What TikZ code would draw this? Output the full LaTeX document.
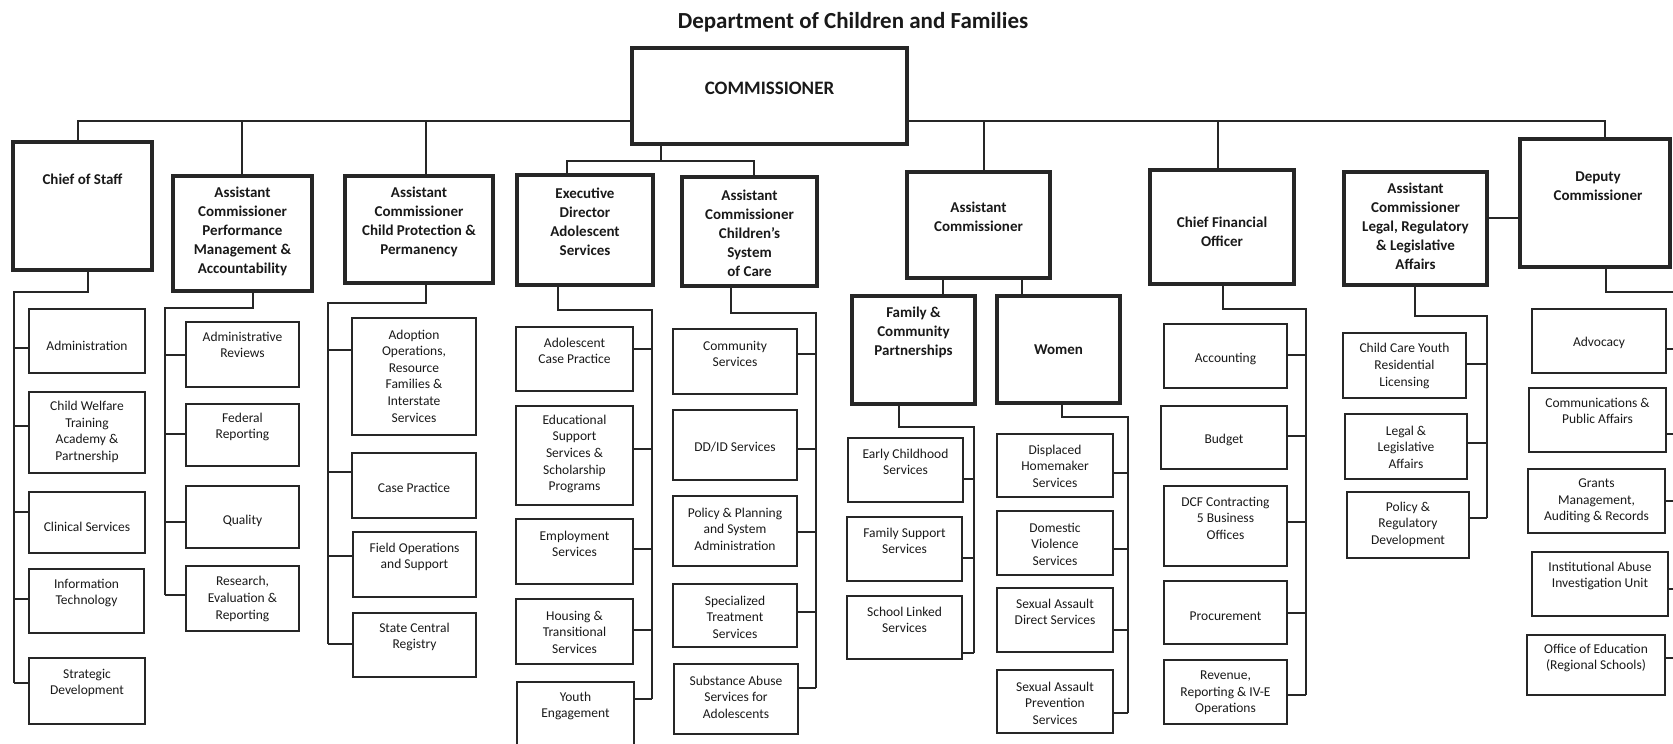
\documentclass[tikz,border=0pt]{standalone}
\usepackage{fontspec}
\setmainfont{Carlito}
\tikzset{
  hb/.style={draw=black!85, line width=3.2pt, inner sep=0pt, outer sep=0pt, rectangle},
  sb/.style={draw=black!85, line width=2pt, inner sep=0pt, outer sep=0pt, rectangle},
  cb/.style={hb},
  hbtxt/.style={align=center, font=\bfseries\fontsize{15}{19}\selectfont, text=black!90, inner sep=0pt},
  sbtxt/.style={align=center, font=\fontsize{13.5}{16.6}\selectfont, text=black!90, inner sep=0pt},
  cbtxt/.style={align=center, font=\bfseries\fontsize{19}{23}\selectfont, text=black!90, inner sep=0pt},
  conn/.style={draw=black!85, line width=2pt},
  ttl/.style={font=\bfseries\fontsize{23}{28}\selectfont, text=black!90, inner sep=0pt}
}
% #1 style, #2 name, #3 x1, #4 y1, #5 x2, #6 y2, #7 text dx, #8 text y, #9 text
\newcommand{\obox}[9]{%
  \node[#1, minimum width={(#5-#3)*1pt}, minimum height={(#6-#4)*1pt}] (#2) at ({(#3+#5)/2},{(#4+#6)/2}) {};
  \node[#1txt] (#2t) at ({(#3+#5)/2+#7},#8) {#9};
}
\newcommand{\brr}[3]{\draw[conn] (#1.east |- 0,#3) -- (#2 |- 0,#3);}
\newcommand{\brl}[3]{\draw[conn] (#1.west |- 0,#3) -- (#2 |- 0,#3);}
\begin{document}
\begin{tikzpicture}[x=1pt,y=-1pt]
\useasboundingbox (0,0) rectangle (1673,744);
\clip (0,0) rectangle (1673,744);

\node[ttl] (title) at (853,22) {Department of Children and Families};

% ---- heads
\obox{cb}{comm}{632}{48}{907}{144}{0}{88}{COMMISSIONER}
\obox{hb}{cos}{13}{142}{152}{270}{0}{179}{Chief of Staff}
\obox{hb}{acpm}{173}{176}{312}{291}{0}{231}{Assistant\\Commissioner\\Performance\\Management \&\\Accountability}
\obox{hb}{accp}{345}{176}{493}{283}{0}{222}{Assistant\\Commissioner\\Child Protection \&\\Permanency}
\obox{hb}{edas}{517}{175}{653}{285}{0}{222}{Executive\\Director\\Adolescent\\Services}
\obox{hb}{accsc}{682}{177}{817}{286}{0}{233}{Assistant\\Commissioner\\Children’s\\System\\of Care}
\obox{hb}{ac}{907}{172}{1050}{278}{0}{217}{Assistant\\Commissioner}
\obox{hb}{fcp}{852}{296}{975}{404}{0}{332}{Family \&\\Community\\Partnerships}
\obox{hb}{women}{997}{296}{1120}{403}{0}{350}{Women}
\obox{hb}{cfo}{1150}{170}{1294}{284}{0}{232}{Chief Financial\\Officer}
\obox{hb}{aclrl}{1344}{172}{1487}{285}{0}{226}{Assistant\\Commissioner\\Legal, Regulatory\\\& Legislative\\Affairs}
\obox{hb}{dep}{1520}{139}{1670}{267}{3}{186}{Deputy\\Commissioner}

% ---- top connectors
\draw[conn] (cos.north -| 78,0) -- (78,121) -- (comm.west |- 0,121);
\draw[conn] (acpm.north -| 242,0) -- (242,121);
\draw[conn] (accp.north -| 426,0) -- (426,121);
\draw[conn] (comm.east |- 0,121) -- (1605,121) -- (dep.north -| 1605,0);
\draw[conn] (ac.north -| 984,0) -- (984,121);
\draw[conn] (cfo.north -| 1218,0) -- (1218,121);
\draw[conn] (aclrl.east |- 0,218) -- (dep.west |- 0,218);
\draw[conn] (comm.south -| 661,0) -- (661,161);
\draw[conn] (edas.north -| 567,0) -- (567,161) -- (754,161) -- (accsc.north -| 754,0);
\draw[conn] (ac.south -| 943,0) -- (fcp.north -| 943,0);
\draw[conn] (ac.south -| 1022,0) -- (women.north -| 1022,0);

% ---- Chief of Staff
\obox{sb}{adm}{29}{309}{145}{373}{0}{346}{Administration}
\obox{sb}{cwt}{29}{392}{145}{473}{0}{432}{Child Welfare\\Training\\Academy \&\\Partnership}
\obox{sb}{cls}{29}{492}{145}{553}{0}{527}{Clinical Services}
\obox{sb}{itc}{29}{569}{144}{633}{0}{593}{Information\\Technology}
\obox{sb}{sdv}{29}{658}{145}{724}{0}{683}{Strategic\\Development}
\coordinate (cossp) at (14,292);
\draw[conn] (cos.south -| 88,0) -- (88,292) -- (cossp) -- (14,683);
\brl{adm}{cossp}{348} \brl{cwt}{cossp}{426} \brl{cls}{cossp}{512} \brl{itc}{cossp}{599} \brl{sdv}{cossp}{683}

% ---- Performance Management
\obox{sb}{arv}{186}{322}{299}{387}{0}{345}{Administrative\\Reviews}
\obox{sb}{frp}{186}{404}{299}{466}{0}{427}{Federal\\Reporting}
\obox{sb}{qua}{186}{486}{299}{548}{0}{521}{Quality}
\obox{sb}{rer}{186}{566}{299}{631}{0}{599}{Research,\\Evaluation \&\\Reporting}
\coordinate (pmsp) at (165,308);
\draw[conn] (acpm.south -| 253,0) -- (253,308) -- (pmsp) -- (165,595);
\brl{arv}{pmsp}{355} \brl{frp}{pmsp}{434} \brl{qua}{pmsp}{522} \brl{rer}{pmsp}{595}

% ---- Child Protection
\obox{sb}{aop}{352}{318}{476}{435}{0}{376}{Adoption\\Operations,\\Resource\\Families \&\\Interstate\\Services}
\obox{sb}{csp}{352}{453}{476}{518}{0}{488}{Case Practice}
\obox{sb}{fos}{353}{532}{476}{597}{0}{557}{Field Operations\\and Support}
\obox{sb}{scr}{353}{613}{476}{677}{0}{637}{State Central\\Registry}
\coordinate (cpsp) at (327.5,303);
\draw[conn] (accp.south -| 426,0) -- (426,303) -- (cpsp) -- (327.5,644);
\brl{aop}{cpsp}{350} \brl{csp}{cpsp}{472} \brl{fos}{cpsp}{556} \brl{scr}{cpsp}{644}

% ---- Adolescent Services
\obox{sb}{acp}{516}{327}{633}{391}{0}{351}{Adolescent\\Case Practice}
\obox{sb}{ess}{516}{406}{633}{505}{0}{454}{Educational\\Support\\Services \&\\Scholarship\\Programs}
\obox{sb}{emp}{516}{519}{633}{584}{0}{544}{Employment\\Services}
\obox{sb}{hts}{516}{599}{633}{664}{0}{632}{Housing \&\\Transitional\\Services}
\obox{sb}{yen}{517}{682}{634}{770}{0}{706}{Youth\\Engagement}
\coordinate (assp) at (652,310);
\draw[conn] (edas.south -| 558,0) -- (558,310) -- (assp) -- (652,699);
\brr{acp}{assp}{349} \brr{ess}{assp}{449} \brr{emp}{assp}{549} \brr{hts}{assp}{630} \brr{yen}{assp}{699}

% ---- Children's System of Care
\obox{sb}{cms}{673}{329}{797}{394}{0}{354}{Community\\Services}
\obox{sb}{ddi}{673}{410}{797}{480}{0}{447}{DD/ID Services}
\obox{sb}{pps}{673}{496}{797}{566}{0}{529}{Policy \& Planning\\and System\\Administration}
\obox{sb}{sts}{673}{584}{797}{647}{0}{617}{Specialized\\Treatment\\Services}
\obox{sb}{sab}{674}{664}{798}{734}{0}{697}{Substance Abuse\\Services for\\Adolescents}
\coordinate (scsp) at (816,313);
\draw[conn] (accsc.south -| 731,0) -- (731,313) -- (scsp) -- (816,688);
\brr{cms}{scsp}{354} \brr{ddi}{scsp}{449} \brr{pps}{scsp}{532} \brr{sts}{scsp}{612} \brr{sab}{scsp}{688}

% ---- Family & Community Partnerships
\obox{sb}{ecs}{848}{438}{963}{502}{0}{462}{Early Childhood\\Services}
\obox{sb}{fss}{847}{517}{962}{581}{0}{541}{Family Support\\Services}
\obox{sb}{sls}{847}{596}{962}{659}{0}{620}{School Linked\\Services}
\coordinate (fcsp) at (974,427);
\draw[conn] (fcp.south -| 899,0) -- (899,427) -- (fcsp) -- (974,653);
\brr{ecs}{fcsp}{479} \brr{fss}{fcsp}{558} \brr{sls}{fcsp}{653}

% ---- Women
\obox{sb}{dhs}{997}{434}{1113}{497}{0}{466}{Displaced\\Homemaker\\Services}
\obox{sb}{dvs}{997}{511}{1113}{575}{0}{544}{Domestic\\Violence\\Services}
\obox{sb}{sad}{997}{588}{1113}{652}{0}{612}{Sexual Assault\\Direct Services}
\obox{sb}{sap}{997}{670}{1113}{733}{0}{703}{Sexual Assault\\Prevention\\Services}
\coordinate (wosp) at (1128,417);
\draw[conn] (women.south -| 1062,0) -- (1062,417) -- (wosp) -- (1128,713);
\brr{dhs}{wosp}{473} \brr{dvs}{wosp}{549} \brr{sad}{wosp}{630} \brr{sap}{wosp}{713}

% ---- Chief Financial Officer
\obox{sb}{acc}{1164}{324}{1287}{388}{0}{359}{Accounting}
\obox{sb}{bud}{1161}{406}{1287}{469}{0}{440}{Budget}
\obox{sb}{dcf}{1164}{486}{1287}{566}{0}{518}{DCF Contracting\\5 Business\\Offices}
\obox{sb}{prc}{1164}{581}{1287}{644}{0}{616}{Procurement}
\obox{sb}{rev}{1164}{660}{1287}{724}{0}{693}{Revenue,\\Reporting \& IV-E\\Operations}
\coordinate (cfsp) at (1306,309);
\draw[conn] (cfo.south -| 1223,0) -- (1223,309) -- (cfsp) -- (1306,695);
\brr{acc}{cfsp}{355} \brr{bud}{cfsp}{436} \brr{dcf}{cfsp}{522} \brr{prc}{cfsp}{613} \brr{rev}{cfsp}{695}

% ---- Legal, Regulatory & Legislative Affairs
\obox{sb}{ccy}{1343}{333}{1466}{398}{0}{366}{Child Care Youth\\Residential\\Licensing}
\obox{sb}{lla}{1345}{414}{1467}{479}{0}{447}{Legal \&\\Legislative\\Affairs}
\obox{sb}{prd}{1347}{492}{1469}{558}{0}{524}{Policy \&\\Regulatory\\Development}
\coordinate (lrsp) at (1487,316);
\draw[conn] (aclrl.south -| 1415,0) -- (1415,316) -- (lrsp) -- (1487,518);
\brr{ccy}{lrsp}{364} \brr{lla}{lrsp}{443} \brr{prd}{lrsp}{518}

% ---- Deputy Commissioner
\obox{sb}{adv}{1532}{309}{1666}{373}{0}{343}{Advocacy}
\obox{sb}{cpa}{1529}{388}{1666}{452}{0}{411}{Communications \&\\Public Affairs}
\obox{sb}{gma}{1528}{469}{1665}{533}{0}{501}{Grants\\Management,\\Auditing \& Records}
\obox{sb}{iai}{1532}{552}{1668}{616}{0}{576}{Institutional Abuse\\Investigation Unit}
\obox{sb}{oed}{1527}{635}{1665}{695}{0}{658}{Office of Education\\(Regional Schools)}
\coordinate (dcsp) at (1676,292);
\draw[conn] (dep.south -| 1606,0) -- (1606,292) -- (dcsp) -- (1676,658);
\brr{adv}{dcsp}{349} \brr{cpa}{dcsp}{434} \brr{gma}{dcsp}{501} \brr{iai}{dcsp}{589} \brr{oed}{dcsp}{658}
\end{tikzpicture}
\end{document}
